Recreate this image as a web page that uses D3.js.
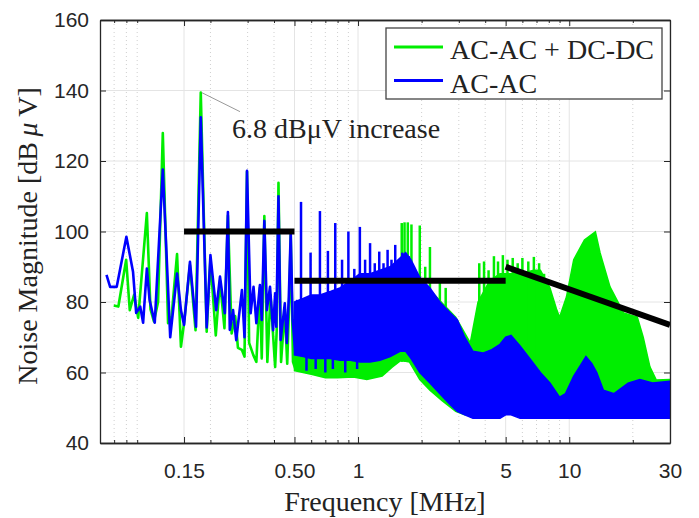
<!DOCTYPE html>
<html>
<head>
<meta charset="utf-8">
<script src="https://d3js.org/d3.v7.min.js"></script>
<style>
  body { margin: 0; background: #fff; }
</style>
</head>
<body>
<script>
// Dimensions
const width = 699, height = 518;
const plotLeft = 100, plotRight = 670, plotTop = 20, plotBottom = 443;

// Axis ticks
const freqTicks  = [0.15, 0.5, 1, 5, 10, 30];
const freqLabels = ["0.15", "0.50", "1", "5", "10", "30"];
const minorTicks = [0.07, 0.08, 0.09, 0.2, 0.3, 0.4, 0.6, 0.7, 0.8, 0.9, 2, 3, 4, 6, 7, 8, 9, 20];
const magTicks   = [40, 60, 80, 100, 120, 140, 160];

// Legend
const seriesNames  = ["AC-AC + DC-DC", "AC-AC"];
const seriesColors = ["#00ee00", "#0000ff"];

// AC-AC (blue) : low frequency trace [MHz, dBuV]
const acLine = [
  [0.0644, 87.7], [0.067, 84.3], [0.072, 84.3], [0.080, 98.5], [0.086, 88.6], [0.089, 76.9],
  [0.093, 78.7], [0.096, 74.1], [0.100, 89.5], [0.103, 80.6], [0.109, 74.1], [0.119, 117.6],
  [0.129, 70.0], [0.139, 88.1], [0.145, 77.7], [0.150, 73.5], [0.160, 91.4], [0.171, 73.0],
  [0.180, 132.4], [0.192, 72.8], [0.200, 93.3], [0.213, 77.7], [0.222, 87.2], [0.234, 76.8],
  [0.242, 105.5], [0.247, 72.1], [0.256, 77.7], [0.265, 69.2], [0.282, 83.4], [0.290, 70.0],
  [0.298, 117.2], [0.310, 76.8], [0.320, 84.3], [0.330, 74.0], [0.343, 84.8], [0.350, 74.9],
  [0.360, 103.0], [0.370, 77.7], [0.383, 84.3], [0.396, 72.0], [0.405, 82.5], [0.410, 73.0],
  [0.420, 110.0], [0.430, 69.2], [0.450, 79.6], [0.460, 68.4], [0.470, 81.5], [0.480, 99.6],
  [0.490, 74.9], [0.505, 65.5], [0.515, 80.6]
];
// dense part [MHz, low, high]
const acBand = [
  [0.50, 65, 80], [0.55, 64.5, 81], [0.60, 64, 82], [0.66, 64, 82], [0.74, 64, 83], [0.82, 63.5, 84],
  [0.92, 63.5, 86], [1.02, 63, 88], [1.14, 63, 88], [1.27, 63.5, 89], [1.42, 64.5, 90], [1.58, 66, 92.5],
  [1.68, 66, 94], [1.78, 64, 92], [1.96, 60, 87], [2.19, 57, 84], [2.44, 54, 80], [2.72, 51, 77],
  [2.95, 49, 75], [3.20, 48, 70], [3.50, 47, 66], [3.90, 47, 65.5], [4.30, 47, 66.5], [4.70, 47, 68],
  [5.00, 48, 70], [5.30, 48, 70.5], [5.85, 47, 67.5], [6.50, 47, 64], [7.30, 47, 60], [8.10, 47, 57],
  [9.00, 47, 53], [9.60, 47, 54], [10.5, 47, 59], [11.3, 47, 62], [12.0, 47, 64.5], [12.8, 47, 62.5],
  [13.5, 47, 60], [14.5, 47, 55], [16.3, 47, 54], [19.0, 47, 57], [21.6, 47, 58], [24.8, 47, 57],
  [30.0, 47, 57.5]
];
// harmonic spikes [MHz, low, high]
const acSpikes = [
  [0.537, 66, 108.4], [0.57, 60.5, 70], [0.596, 66, 94], [0.63, 61, 70], [0.66, 66, 105.8],
  [0.70, 60, 70], [0.72, 66, 94.5], [0.76, 61, 70], [0.78, 66, 102.4], [0.84, 66, 92],
  [0.87, 60, 70], [0.90, 66, 100], [0.96, 66, 89.4], [0.99, 61, 70], [1.02, 66, 101.3],
  [1.08, 66, 92], [1.14, 66, 96.7], [1.20, 66, 91], [1.26, 66, 94.3], [1.32, 66, 91],
  [1.38, 66, 94.8], [1.44, 66, 92], [1.50, 66, 96.2], [1.62, 66, 94], [1.74, 66, 93]
];

// AC-AC + DC-DC (green)
const acdcLine = [
  [0.0697, 79.0], [0.0733, 78.7], [0.0798, 92.0], [0.083, 77.7], [0.087, 82.0], [0.091, 75.5],
  [0.100, 105.2], [0.104, 78.0], [0.108, 74.5], [0.113, 80.0], [0.119, 127.9], [0.126, 74.0],
  [0.131, 76.0], [0.139, 93.6], [0.145, 67.3], [0.150, 74.0], [0.160, 90.5], [0.170, 72.0],
  [0.180, 139.4], [0.192, 71.6], [0.200, 92.0], [0.212, 70.5], [0.222, 86.0], [0.233, 72.6],
  [0.242, 104.5], [0.252, 71.1], [0.262, 76.0], [0.270, 67.0], [0.282, 66.4], [0.290, 64.5],
  [0.298, 117.0], [0.305, 68.4], [0.319, 65.0], [0.330, 63.0], [0.343, 84.0], [0.350, 64.0],
  [0.360, 104.4], [0.372, 63.0], [0.385, 82.0], [0.405, 61.6], [0.412, 72.0], [0.420, 113.8],
  [0.432, 63.0], [0.450, 78.0], [0.462, 62.5], [0.472, 80.0], [0.480, 99.0], [0.492, 63.0],
  [0.505, 61.0], [0.515, 76.0]
];
const acdcBand = [
  [0.50, 60.5, 76], [0.60, 59.5, 76], [0.70, 58.5, 77], [0.80, 58.5, 78], [0.95, 58.7, 80],
  [1.10, 58, 82], [1.30, 59, 85], [1.45, 61.5, 88], [1.60, 63.5, 91], [1.75, 63, 90],
  [1.96, 58, 86], [2.19, 55, 83.4], [2.50, 52, 79.7], [2.90, 49, 75.7], [3.20, 48, 71.2],
  [3.40, 48, 68.4], [3.70, 48, 80], [4.20, 48, 86], [4.70, 48, 88], [5.30, 49, 88],
  [5.85, 50, 88], [6.80, 51, 89], [7.30, 51, 89], [8.10, 52, 84], [8.70, 52, 78],
  [9.00, 51.5, 75.7], [9.70, 52, 81.4], [10.5, 54, 92], [11.8, 55, 97.6], [13.3, 56, 99.9],
  [14.0, 55, 93.9], [15.6, 54, 84.3], [18.1, 53, 76.9], [21.0, 52, 75.7], [22.4, 51, 70],
  [24.1, 50, 61.6], [25.8, 50, 57.9], [30.0, 50, 58]
];
const acdcSpikes = [
  [1.61, 63, 102.4], [1.66, 63, 102.6], [1.72, 63, 102.6], [1.79, 63, 102], [1.96, 60, 101.7],
  [2.08, 58, 90], [2.19, 56, 95.6], [2.44, 54, 85.4], [2.60, 52, 84],
  [3.75, 55, 91], [3.95, 55, 91.5], [4.15, 55, 89], [4.40, 55, 93], [4.60, 55, 91.5],
  [4.85, 55, 93.3], [5.10, 55, 92], [5.40, 55, 92.5], [5.70, 55, 91], [6.00, 55, 92.5],
  [6.40, 55, 91.5], [6.80, 55, 92.8], [7.20, 55, 91], [7.60, 55, 88]
];

// EMI limit lines
const limitLines = [
  [[0.15, 100], [0.5, 100]],
  [[0.5, 86], [5, 86]],
  [[5, 90], [30, 73.5]]
];

// annotation: peak and end of the pointer
const notePeak = [0.18, 139.4];
const noteEnd  = [0.276, 134];
const noteText = "6.8 dBμV increase";

const svg = d3.select("body").append("svg")
  .attr("width", width)
  .attr("height", height)
  .style("background", "#fff");

const x = d3.scaleLog().domain([0.06, 30]).range([plotLeft, plotRight]);
const y = d3.scaleLinear().domain([40, 160]).range([plotBottom, plotTop]);

// grid
const grid = svg.append("g");
grid.selectAll(".minor").data(minorTicks).join("line")
  .attr("x1", d => x(d)).attr("x2", d => x(d))
  .attr("y1", plotTop).attr("y2", plotBottom)
  .attr("stroke", "#cfcfcf").attr("stroke-dasharray", "1,3");
grid.selectAll(".major").data(freqTicks).join("line")
  .attr("x1", d => x(d)).attr("x2", d => x(d))
  .attr("y1", plotTop).attr("y2", plotBottom)
  .attr("stroke", "#e4e4e4");
grid.selectAll(".hgrid").data(magTicks).join("line")
  .attr("x1", plotLeft).attr("x2", plotRight)
  .attr("y1", d => y(d)).attr("y2", d => y(d))
  .attr("stroke", "#e4e4e4");

svg.append("clipPath").attr("id", "clip")
  .append("rect")
  .attr("x", plotLeft).attr("y", plotTop)
  .attr("width", plotRight - plotLeft).attr("height", plotBottom - plotTop);

const plot = svg.append("g").attr("clip-path", "url(#clip)");

function drawSeries(lineData, band, spikes, color) {
  const g = plot.append("g");
  g.append("path")
    .datum(band)
    .attr("fill", color)
    .attr("stroke", color)
    .attr("stroke-width", 1.5)
    .attr("d", d3.area()
      .x(d => x(d[0]))
      .y0(d => y(d[1]))
      .y1(d => y(d[2])));
  g.selectAll("line").data(spikes).join("line")
    .attr("x1", d => x(d[0])).attr("x2", d => x(d[0]))
    .attr("y1", d => y(d[1])).attr("y2", d => y(d[2]))
    .attr("stroke", color)
    .attr("stroke-width", 2.5);
  g.append("path")
    .datum(lineData)
    .attr("fill", "none")
    .attr("stroke", color)
    .attr("stroke-width", 2.6)
    .attr("stroke-linejoin", "round")
    .attr("d", d3.line()
      .x(d => x(d[0]))
      .y(d => y(d[1])));
}

drawSeries(acdcLine, acdcBand, acdcSpikes, seriesColors[0]);
drawSeries(acLine, acBand, acSpikes, seriesColors[1]);

// limit lines
plot.selectAll(".limit").data(limitLines).join("path")
  .attr("fill", "none")
  .attr("stroke", "#000")
  .attr("stroke-width", 6)
  .attr("d", d3.line().x(d => x(d[0])).y(d => y(d[1])));

// axes
const axisColor = "#262626";
function styleAxis(g) {
  g.attr("color", axisColor)
   .attr("font-family", "'Liberation Sans', Arial, sans-serif")
   .attr("font-size", 21);
  g.select(".domain").attr("stroke-width", 1.3);
}

svg.append("g")
  .attr("transform", `translate(0,${plotBottom})`)
  .call(d3.axisBottom(x).tickValues(freqTicks).tickFormat((d, i) => freqLabels[i])
    .tickSizeInner(-6).tickSizeOuter(0).tickPadding(20))
  .call(styleAxis);
svg.append("g")
  .attr("transform", `translate(0,${plotBottom})`)
  .call(d3.axisBottom(x).tickValues(minorTicks).tickFormat("").tickSizeInner(-3).tickSizeOuter(0))
  .call(styleAxis);
svg.append("g")
  .attr("transform", `translate(0,${plotTop})`)
  .call(d3.axisTop(x).tickValues(freqTicks).tickFormat("").tickSizeInner(-6).tickSizeOuter(0))
  .call(styleAxis);
svg.append("g")
  .attr("transform", `translate(0,${plotTop})`)
  .call(d3.axisTop(x).tickValues(minorTicks).tickFormat("").tickSizeInner(-3).tickSizeOuter(0))
  .call(styleAxis);
svg.append("g")
  .attr("transform", `translate(${plotLeft},0)`)
  .call(d3.axisLeft(y).tickValues(magTicks).tickSizeInner(-6).tickSizeOuter(0).tickPadding(11))
  .call(styleAxis);
svg.append("g")
  .attr("transform", `translate(${plotRight},0)`)
  .call(d3.axisRight(y).tickValues(magTicks).tickFormat("").tickSizeInner(-6).tickSizeOuter(0))
  .call(styleAxis);

// axis labels
const serif = "'Liberation Serif', 'Times New Roman', serif";
svg.append("text")
  .attr("x", (plotLeft + plotRight) / 2)
  .attr("y", 511)
  .attr("text-anchor", "middle")
  .attr("font-family", serif)
  .attr("font-size", 28)
  .attr("fill", "#222")
  .text("Frequency [MHz]");

const yLabel = svg.append("text")
  .attr("transform", "translate(37,236) rotate(-90)")
  .attr("text-anchor", "middle")
  .attr("font-family", serif)
  .attr("font-size", 28)
  .attr("fill", "#222");
yLabel.append("tspan").text("Noise Magnitude [dB\u2009");
yLabel.append("tspan").attr("font-style", "italic").text("μ");
yLabel.append("tspan").text("\u2009V]");

// annotation
svg.append("line")
  .attr("x1", x(notePeak[0]) + 1).attr("y1", y(notePeak[1]))
  .attr("x2", x(noteEnd[0])).attr("y2", y(noteEnd[1]))
  .attr("stroke", "#999").attr("stroke-width", 1);
svg.append("text")
  .attr("x", 232)
  .attr("y", 138)
  .attr("font-family", serif)
  .attr("font-size", 28)
  .attr("fill", "#222")
  .text(noteText);

// legend
const legend = svg.append("g");
legend.append("rect")
  .attr("x", 386).attr("y", 28)
  .attr("width", 276).attr("height", 71)
  .attr("fill", "#fff")
  .attr("stroke", "#444")
  .attr("stroke-width", 1.3);
const items = legend.selectAll(".item").data(seriesNames).join("g")
  .attr("transform", (d, i) => `translate(0,${47 + i * 33.5})`);
items.append("line")
  .attr("x1", 394).attr("x2", 443)
  .attr("stroke", (d, i) => seriesColors[i])
  .attr("stroke-width", 3);
items.append("text")
  .attr("x", 450)
  .attr("y", 12)
  .attr("font-family", serif)
  .attr("font-size", 28)
  .attr("fill", "#222")
  .text(d => d);
</script>
</body>
</html>
